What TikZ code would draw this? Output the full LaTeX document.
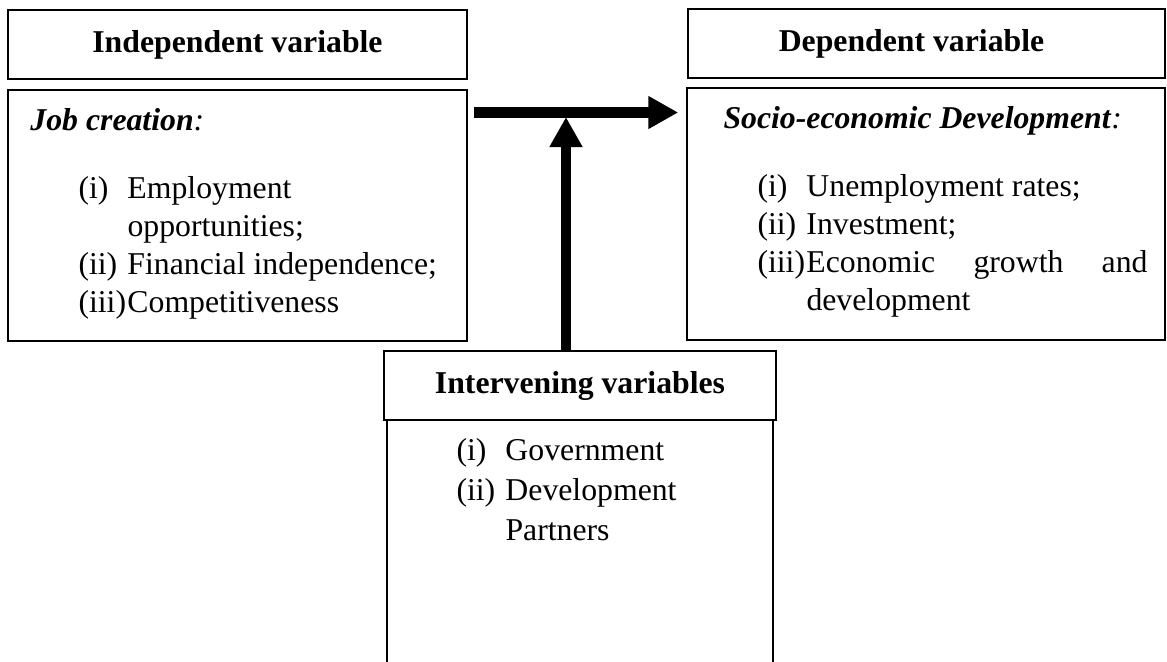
\documentclass[tikz,border=0pt]{standalone}
\usepackage{fontspec}
\setmainfont{Liberation Serif}
\usetikzlibrary{arrows.meta}
\usetikzlibrary{fit}
\newcommand{\itm}[1]{\makebox[19.6pt][l]{#1}}

\begin{document}
\begin{tikzpicture}[x=0.4pt,y=-0.4pt,
 box/.style={draw,line width=1pt,inner sep=0pt},
 headtxt/.style={font=\fontsize{12.7}{15}\selectfont\bfseries},
 txt/.style={anchor=base west,inner sep=0pt,font=\fontsize{12.7}{15}\selectfont},
 flow/.style={line width=4.3pt,-{Triangle[length=12pt,width=12.4pt]}}]
\useasboundingbox (0,0) rectangle (1167,661);
\node[box,fit={(8,10) (467,79)},label={[headtxt]center:Independent variable}] (indep) {};
\node[box,fit={(8,90) (467,341)}] (indepbox) {};
\node[box,fit={(688,9) (1165,78)},label={[headtxt,xshift=-6pt]center:Dependent variable}] (dep) {};
\node[box,fit={(687,88) (1165,340)}] (depbox) {};
\node[box,fit={(384,351) (776,420)},label={[headtxt]center:Intervening variables}] (interv) {};
\node[box,fit={(387,420) (773,690)}] (intervbox) {};
\node[txt] (jc) at (30,130) {\textbf{\textit{Job creation}}\textit{:}};
\foreach \t [count=\i] in {{\itm{(i)}Employment},{\itm{}opportunities;},{\itm{(ii)}Financial independence;},{\itm{(iii)}Competitiveness}}
 \node[txt] (jc\i) at (78,160+38*\i) {\t};
\node[txt] (sed) at (723,128) {\textbf{\textit{Socio-economic Development}}\textit{:}};
\foreach \t [count=\i] in {{\itm{(i)}Unemployment rates;},{\itm{(ii)}Investment;},{\makebox[156pt][l]{\itm{(iii)}Economic\hfill growth\hfill and}},{\itm{}development}}
 \node[txt] (sed\i) at (757,158+38*\i) {\t};
\foreach \t [count=\i] in {{\itm{(i)}Government},{\itm{(ii)}Development},{\itm{}Partners}}
 \node[txt] (iv\i) at (456,420+40*\i) {\t};
\coordinate (junction) at (566,112.5);
\draw[flow,shorten <=2.4pt,shorten >=3pt] (indepbox.east |- junction) -- (depbox.west |- junction);
\draw[flow,shorten >=1.8pt] (interv.north -| junction) -- (junction);
\end{tikzpicture}
\end{document}
